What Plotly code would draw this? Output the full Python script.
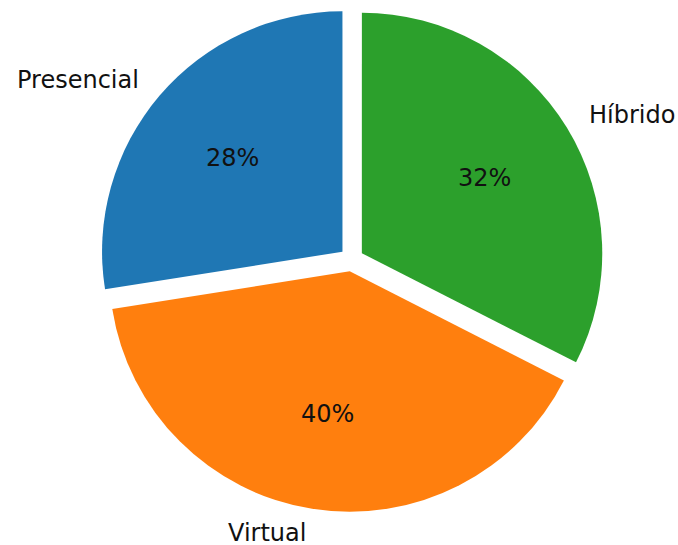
import math
import plotly.graph_objects as go

# Data (shares in percent)
labels = ["Presencial", "Virtual", "Híbrido"]
values = [27.5, 40.0, 32.5]
colors = ["#1f77b4", "#ff7f0e", "#2ca02c"]

W, H = 678, 545
explode = 0.05
label_dist = 1.1
pct_dist = 0.6
font_size = 24

# Pie geometry in pixels (layout)
cx_px, cy_px, r_px = 351.6, 259.5, 240.4
half = r_px * (1 + explode)
dom_x = [(cx_px - half) / W, (cx_px + half) / W]
dom_y = [1 - (cy_px + half) / H, 1 - (cy_px - half) / H]

total = sum(values)

fig = go.Figure(go.Pie(
    labels=labels,
    values=values,
    sort=False,
    direction="counterclockwise",
    # plotly ends the first counterclockwise slice at `rotation`;
    # shift so that the first slice starts at 12 o'clock
    rotation=-360 * values[0] / total,
    pull=[explode] * len(values),
    marker=dict(colors=colors, line=dict(width=0)),
    textinfo="none",
    hoverinfo="skip",
    showlegend=False,
    domain=dict(x=dom_x, y=dom_y),
))

cum = 0
annotations = []
for lab, v in zip(labels, values):
    t1 = 90 + 360 * cum / total
    cum += v
    t2 = 90 + 360 * cum / total
    tm = math.radians((t1 + t2) / 2)
    c, s = math.cos(tm), math.sin(tm)
    # outer label
    lx = cx_px + (explode + label_dist) * r_px * c
    ly = cy_px - (explode + label_dist) * r_px * s
    annotations.append(dict(
        x=lx / W, y=1 - ly / H, xref="paper", yref="paper",
        text=lab, showarrow=False,
        xanchor="left" if c > 0 else "right", yanchor="middle",
        font=dict(family="DejaVu Sans", size=font_size, color="#111111"),
    ))
    # percent label
    px = cx_px + (explode + pct_dist) * r_px * c
    py = cy_px - (explode + pct_dist) * r_px * s
    annotations.append(dict(
        x=px / W, y=1 - py / H, xref="paper", yref="paper",
        text=f"{100 * v / total:.0f}%", showarrow=False,
        xanchor="center", yanchor="middle",
        font=dict(family="DejaVu Sans", size=font_size, color="#111111"),
    ))

fig.update_layout(
    width=W, height=H,
    margin=dict(l=0, r=0, t=0, b=0),
    paper_bgcolor="white",
    plot_bgcolor="white",
    annotations=annotations,
)

fig.write_html("out.html", config={"displayModeBar": False})

# remove the browser's default page margin so the figure sits at (0, 0)
with open("out.html", "r", encoding="utf-8") as f:
    html = f.read()
html = html.replace(
    "<head>",
    "<head><style>html,body{margin:0;padding:0;overflow:hidden;}</style>",
    1,
)
with open("out.html", "w", encoding="utf-8") as f:
    f.write(html)
